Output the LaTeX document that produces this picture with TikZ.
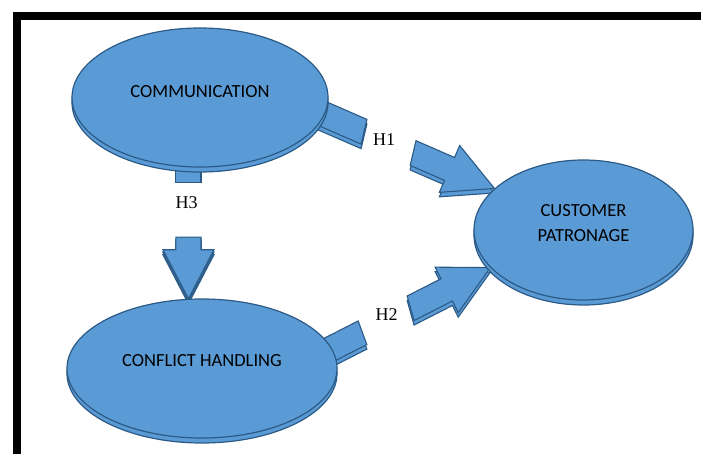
\documentclass[tikz,border=0pt]{standalone}
\usepackage{fontspec}
\usetikzlibrary{shapes.geometric,shadows,backgrounds}
\setmainfont{Liberation Serif}
\newfontfamily\capfont{Carlito}

\definecolor{blobfill}{HTML}{5B9BD5}
\definecolor{blobedge}{HTML}{2B5A86}

\tikzset{
  blob/.style={ellipse, draw=blobedge, fill=blobfill, line width=1.2pt, inner sep=0pt,
    copy shadow={shadow xshift=0pt, shadow yshift=-5pt, fill=blobfill, draw=blobedge, line width=1.2pt}},
  blobtext/.style={font=\capfont\fontsize{18.5}{25}\selectfont, align=center},
  hyp/.style={font=\fontsize{18}{20}\selectfont},
  piece/.style={fill=blobfill, draw=blobedge, line width=1.1pt, line join=miter}
}

% block arrow split in two by its label: tip at #1, turned by #2,
% #3/#4 back end of the head part (upper/lower edge), #5/#6 front end of the stub,
% #7/#8 downward offsets of the stacked copies of head part and stub
\newcommand\hyparrow[8]{%
  \foreach \drop in {#7}{%
    \begin{scope}[shift={(#1)}, yshift=\drop pt, rotate=#2, x=1pt, y=1pt]
      \filldraw[piece] (#3,12.5) -- (-49,12.5) -- (-49,25.5) -- (0,0)
        -- (-49,-25.5) -- (-49,-12.5) -- (#4,-12.5) -- cycle;
    \end{scope}}
  \foreach \drop in {#8}{%
    \begin{scope}[shift={(#1)}, yshift=\drop pt, rotate=#2, x=1pt, y=1pt]
      \filldraw[piece] (-230,12.5) -- (#5,12.5) -- (#6,-12.5) -- (-230,-12.5) -- cycle;
    \end{scope}}}

\begin{document}
\begin{tikzpicture}[x=1pt, y=-1pt]
  \useasboundingbox (0,0) rectangle (701,454);

  % frame
  \draw[line width=8pt, line join=miter] (17,454) -- (17,16) -- (701,16);

  % constructs
  \node[blob, minimum width=256pt, minimum height=139pt] (com) at (200,97.5) {};
  \node[blob, minimum width=270pt, minimum height=139pt] (con) at (202,368.5) {};
  \node[blob, minimum width=219pt, minimum height=140pt] (cus) at (583.5,230) {};

  \node[blobtext] (comtext) at (200,91.7) {COMMUNICATION};
  \node[blobtext] (context) at (202,361) {CONFLICT HANDLING};
  \node[blobtext] (custext) at (583.5,223.3) {CUSTOMER\\PATRONAGE};

  % hypotheses
  \begin{scope}[on background layer]
    \hyparrow{cus.155}{-23.5}{-91}{-86.5}{-144.5}{-140}{-4.5,0}{-4.5,0}
    \hyparrow{cus.202}{27}{-87}{-92}{-142}{-145}{-4.5,0}{-4.5,0}
    \hyparrow{con.101}{-90}{-61.7}{-61.7}{-116.7}{-116.7}{-5,-2.5,0}{0}
  \end{scope}

  \node[hyp] (h1) at (384,140) {H1};
  \node[hyp] (h2) at (386.7,315) {H2};
  \node[hyp] (h3) at (186.7,203) {H3};
\end{tikzpicture}
\end{document}
